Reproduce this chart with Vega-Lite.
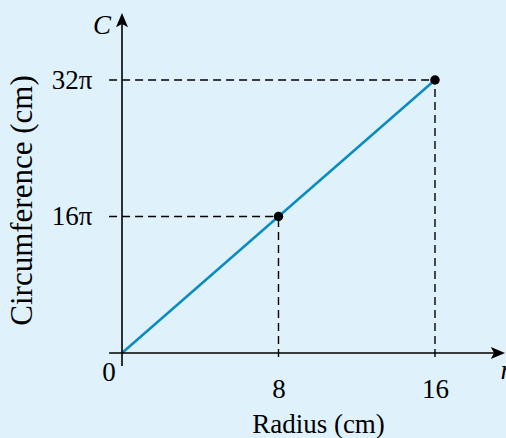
{
  "$schema": "https://vega.github.io/schema/vega-lite/v6.json",
  "width": 384,
  "height": 353,
  "autosize": {"type": "none"},
  "padding": {"left": 122, "top": 0, "right": 0, "bottom": 85},
  "background": "#dff1fb",
  "config": {
    "view": {"stroke": null},
    "font": "Liberation Serif",
    "text": {"font": "Liberation Serif", "fontSize": 27, "color": "black"}
  },
  "datasets": {
    "circle": [
      {"r": 0, "C": 0},
      {"r": 8, "C": 50.265},
      {"r": 16, "C": 100.531}
    ],
    "marked": [
      {"r": 8, "C": 50.265},
      {"r": 16, "C": 100.531}
    ],
    "guides": [
      {"r": 8, "C": 50.265, "r0": -0.66, "c0": -1.5},
      {"r": 16, "C": 100.531, "r0": -0.66, "c0": -1.5}
    ],
    "axislines": [
      {"x1": -0.66, "x2": 19.3, "y1": 0, "y2": 0},
      {"x1": 0, "x2": 0, "y1": -4.8, "y2": 124}
    ]
  },
  "layer": [
    {
      "data": {"name": "circle"},
      "mark": {"type": "line", "color": "#0a8bc2", "strokeWidth": 2.5, "clip": false},
      "encoding": {
        "x": {
          "field": "r", "type": "quantitative",
          "scale": {"domain": [0, 19.63], "nice": false, "zero": false},
          "axis": {
            "values": [8, 16], "domain": false, "ticks": false, "grid": false,
            "labelFont": "Liberation Serif", "labelFontSize": 27, "labelColor": "black",
            "labelPadding": 23, "labelBaseline": "top",
            "title": "Radius (cm)", "titleFont": "Liberation Serif", "titleFontSize": 27,
            "titleFontWeight": "normal", "titleColor": "black",
            "titleX": 196, "titleY": 79, "titleBaseline": "alphabetic", "titleAlign": "center"
          }
        },
        "y": {
          "field": "C", "type": "quantitative",
          "scale": {"domain": [0, 130], "nice": false, "zero": false},
          "axis": {
            "values": [50.26548, 100.53096], "domain": false, "ticks": false, "grid": false,
            "labelExpr": "round(datum.value / PI) + 'π'",
            "labelFont": "Liberation Serif", "labelFontSize": 27, "labelColor": "black",
            "labelPadding": 30, "labelBaseline": "middle",
            "title": "Circumference (cm)", "titleFont": "Liberation Serif", "titleFontSize": 31,
            "titleFontWeight": "normal", "titleColor": "black",
            "titleX": -91, "titleY": 200, "titleAngle": -90,
            "titleBaseline": "alphabetic", "titleAlign": "center"
          }
        }
      }
    },
    {
      "data": {"name": "guides"},
      "mark": {"type": "rule", "color": "black", "strokeWidth": 1.4, "strokeDash": [8, 5], "clip": false},
      "encoding": {
        "x": {"field": "r0", "type": "quantitative"},
        "x2": {"field": "r"},
        "y": {"field": "C", "type": "quantitative"}
      }
    },
    {
      "data": {"name": "guides"},
      "mark": {"type": "rule", "color": "black", "strokeWidth": 1.4, "strokeDash": [8, 5], "clip": false},
      "encoding": {
        "x": {"field": "r", "type": "quantitative"},
        "y": {"field": "c0", "type": "quantitative"},
        "y2": {"field": "C"}
      }
    },
    {
      "data": {"name": "axislines"},
      "mark": {"type": "rule", "color": "black", "strokeWidth": 1.6, "clip": false},
      "encoding": {
        "x": {"field": "x1", "type": "quantitative"},
        "x2": {"field": "x2"},
        "y": {"field": "y1", "type": "quantitative"},
        "y2": {"field": "y2"}
      }
    },
    {
      "data": {"values": [{"x": 19.58, "y": 0}]},
      "mark": {"type": "point", "shape": "M0,0 L-2.6,-1.1 L-2,0 L-2.6,1.1 Z", "size": 120, "filled": true, "color": "black", "opacity": 1, "strokeWidth": 0, "clip": false},
      "encoding": {
        "x": {"field": "x", "type": "quantitative"},
        "y": {"field": "y", "type": "quantitative"}
      }
    },
    {
      "data": {"values": [{"x": 0, "y": 125.2}]},
      "mark": {"type": "point", "shape": "M0,0 L1.1,2.6 L0,2 L-1.1,2.6 Z", "size": 120, "filled": true, "color": "black", "opacity": 1, "strokeWidth": 0, "clip": false},
      "encoding": {
        "x": {"field": "x", "type": "quantitative"},
        "y": {"field": "y", "type": "quantitative"}
      }
    },
    {
      "data": {"name": "marked"},
      "mark": {"type": "circle", "color": "black", "size": 90, "opacity": 1, "clip": false},
      "encoding": {
        "x": {"field": "r", "type": "quantitative"},
        "y": {"field": "C", "type": "quantitative"}
      }
    },
    {
      "data": {"values": [{"x": -0.66, "y": -10.3, "t": "0"}]},
      "mark": {"type": "text", "baseline": "alphabetic", "align": "center", "clip": false},
      "encoding": {
        "x": {"field": "x", "type": "quantitative"},
        "y": {"field": "y", "type": "quantitative"},
        "text": {"field": "t"}
      }
    },
    {
      "data": {"values": [{"x": -1.02, "y": 117.5, "t": "C"}]},
      "mark": {"type": "text", "baseline": "alphabetic", "align": "center", "fontStyle": "italic", "clip": false},
      "encoding": {
        "x": {"field": "x", "type": "quantitative"},
        "y": {"field": "y", "type": "quantitative"},
        "text": {"field": "t"}
      }
    },
    {
      "data": {"values": [{"x": 19.35, "y": -9.4, "t": "r"}]},
      "mark": {"type": "text", "baseline": "alphabetic", "align": "left", "fontStyle": "italic", "clip": false},
      "encoding": {
        "x": {"field": "x", "type": "quantitative"},
        "y": {"field": "y", "type": "quantitative"},
        "text": {"field": "t"}
      }
    }
  ]
}
